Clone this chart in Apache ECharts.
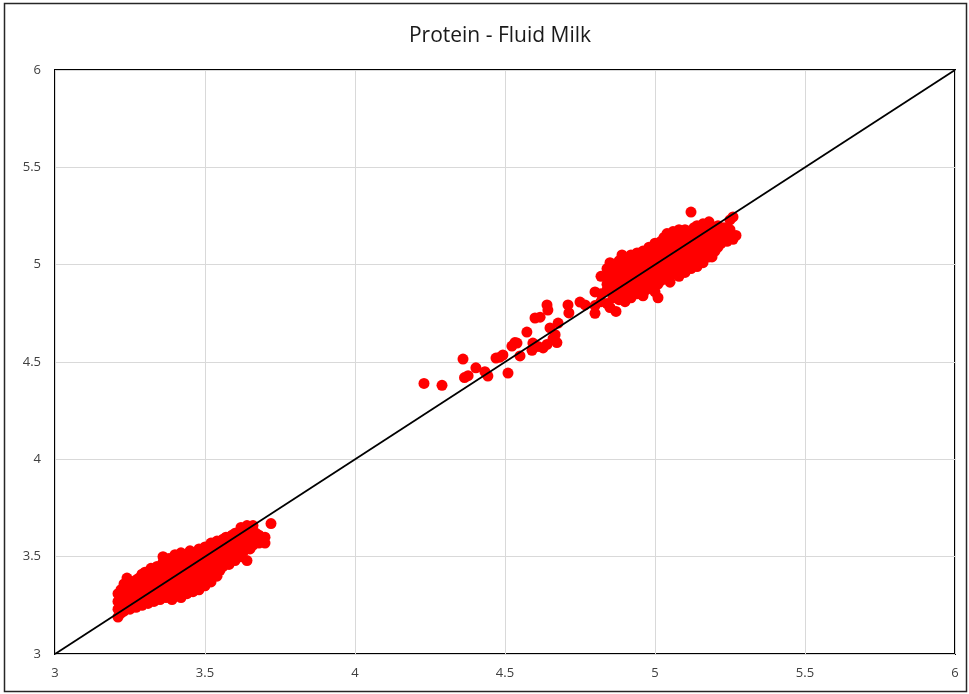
<!DOCTYPE html>
<html>
<head>
<meta charset="utf-8">
<script src="https://cdn.jsdelivr.net/npm/echarts@6/dist/echarts.min.js"></script>
<style>html,body{margin:0;padding:0;background:#fff}#c{width:969px;height:694px}</style>
</head>
<body>
<div id="c"></div>
<script>
const chartTitle = 'Protein - Fluid Milk';
const axisTicks = [3, 3.5, 4, 4.5, 5, 5.5, 6];
const identityLine = [[3, 3], [6, 6]];

// lower cluster: column x -> list of y values
const lowCols = [
  [3.21, [3.19, 3.23, 3.27, 3.31]],
  [3.22, [3.21, 3.25, 3.29, 3.33]],
  [3.23, [3.22, 3.28, 3.36]],
  [3.24, [3.24, 3.30, 3.39, 3.34]],
  [3.25, [3.23, 3.27, 3.32, 3.36]],
  [3.26, [3.25, 3.29, 3.35, 3.31]],
  [3.27, [3.24, 3.28, 3.33, 3.38]],
  [3.28, [3.26, 3.30, 3.35, 3.39]],
  [3.29, [3.25, 3.29, 3.34, 3.41]],
  [3.30, [3.27, 3.31, 3.36, 3.42, 3.39]],
  [3.31, [3.26, 3.30, 3.33, 3.38]],
  [3.32, [3.28, 3.32, 3.35, 3.40, 3.44]],
  [3.33, [3.27, 3.30, 3.34, 3.37, 3.42]],
  [3.34, [3.29, 3.33, 3.36, 3.39, 3.45]],
  [3.35, [3.28, 3.31, 3.35, 3.38, 3.43]],
  [3.36, [3.30, 3.33, 3.37, 3.41, 3.47, 3.50]],
  [3.37, [3.29, 3.32, 3.36, 3.40, 3.44]],
  [3.38, [3.31, 3.35, 3.38, 3.42, 3.46, 3.49]],
  [3.39, [3.28, 3.33, 3.37, 3.41, 3.45]],
  [3.40, [3.30, 3.34, 3.39, 3.43, 3.48, 3.51]],
  [3.41, [3.32, 3.36, 3.40, 3.44, 3.47]],
  [3.42, [3.29, 3.34, 3.38, 3.42, 3.46, 3.50, 3.52]],
  [3.43, [3.33, 3.37, 3.41, 3.45, 3.49]],
  [3.44, [3.31, 3.35, 3.39, 3.43, 3.47, 3.51]],
  [3.45, [3.34, 3.38, 3.42, 3.46, 3.50, 3.53]],
  [3.46, [3.32, 3.36, 3.40, 3.44, 3.48]],
  [3.47, [3.35, 3.39, 3.43, 3.47, 3.52]],
  [3.48, [3.33, 3.37, 3.41, 3.45, 3.49, 3.54]],
  [3.49, [3.36, 3.40, 3.44, 3.48, 3.51]],
  [3.50, [3.35, 3.38, 3.42, 3.46, 3.50, 3.55]],
  [3.51, [3.39, 3.43, 3.47, 3.53]],
  [3.52, [3.37, 3.41, 3.45, 3.49, 3.52, 3.57]],
  [3.53, [3.42, 3.46, 3.50, 3.55]],
  [3.54, [3.40, 3.44, 3.48, 3.53, 3.58]],
  [3.55, [3.43, 3.47, 3.51, 3.56]],
  [3.56, [3.45, 3.49, 3.54, 3.59]],
  [3.57, [3.47, 3.52, 3.57, 3.60]],
  [3.58, [3.46, 3.50, 3.55, 3.58]],
  [3.59, [3.49, 3.53, 3.57, 3.61]],
  [3.60, [3.48, 3.52, 3.56, 3.62]],
  [3.61, [3.51, 3.55, 3.59]],
  [3.62, [3.50, 3.54, 3.58, 3.65]],
  [3.63, [3.53, 3.57, 3.61]],
  [3.64, [3.48, 3.55, 3.60, 3.66]],
  [3.65, [3.54, 3.58, 3.62]],
  [3.66, [3.56, 3.60, 3.66]],
  [3.67, [3.58, 3.62]],
  [3.68, [3.57, 3.61]],
  [3.70, [3.57, 3.60]],
  [3.72, [3.67]]
];

// scattered middle points
const midPoints = [
  [4.23, 4.39], [4.29, 4.38], [4.36, 4.515], [4.365, 4.42], [4.377, 4.43],
  [4.403, 4.47], [4.433, 4.45], [4.443, 4.428], [4.47, 4.52], [4.483, 4.525],
  [4.493, 4.536], [4.51, 4.443], [4.523, 4.582], [4.54, 4.597], [4.55, 4.531],
  [4.533, 4.60], [4.573, 4.654], [4.59, 4.56], [4.593, 4.597], [4.6, 4.726],
  [4.617, 4.73], [4.61, 4.58], [4.627, 4.572], [4.64, 4.59], [4.64, 4.793],
  [4.643, 4.767], [4.65, 4.675], [4.66, 4.62], [4.667, 4.64], [4.677, 4.70],
  [4.673, 4.60], [4.71, 4.793], [4.713, 4.752], [4.75, 4.808], [4.767, 4.793]
];

// upper cluster: column x -> list of y values
const highCols = [
  [4.80, [4.75, 4.79, 4.86]],
  [4.82, [4.81, 4.85, 4.94]],
  [4.84, [4.80, 4.87, 4.90, 4.94, 4.98]],
  [4.85, [4.78, 5.01]],
  [4.86, [4.83, 4.88, 4.92, 4.96]],
  [4.87, [4.76, 4.85, 4.99]],
  [4.88, [4.82, 4.90, 4.94, 4.98, 5.02]],
  [4.89, [4.87, 4.93, 5.05]],
  [4.90, [4.81, 4.85, 4.89, 4.96, 5.00, 5.03]],
  [4.91, [4.91, 4.95, 4.99]],
  [4.92, [4.83, 4.87, 4.93, 4.97, 5.01, 5.05]],
  [4.93, [4.89, 4.95, 5.03]],
  [4.94, [4.85, 4.91, 4.97, 5.00, 5.06]],
  [4.95, [4.88, 4.93, 4.99, 5.04]],
  [4.96, [4.84, 4.90, 4.95, 5.01, 5.07]],
  [4.97, [4.87, 4.92, 4.97, 5.03]],
  [4.98, [4.89, 4.94, 4.99, 5.05, 5.09]],
  [4.99, [4.91, 4.96, 5.01, 5.07]],
  [5.00, [4.86, 4.93, 4.98, 5.03, 5.08, 5.11]],
  [5.01, [4.83, 4.90, 4.95, 5.00, 5.05, 5.10]],
  [5.02, [4.92, 4.97, 5.02, 5.07, 5.12]],
  [5.03, [4.94, 4.99, 5.04, 5.09, 5.14]],
  [5.04, [4.96, 5.01, 5.06, 5.11, 5.16]],
  [5.05, [4.91, 4.98, 5.03, 5.08, 5.13]],
  [5.06, [4.95, 5.00, 5.05, 5.10, 5.15, 5.17]],
  [5.07, [4.97, 5.02, 5.07, 5.12]],
  [5.08, [4.94, 4.99, 5.04, 5.09, 5.14, 5.18]],
  [5.09, [5.01, 5.06, 5.11, 5.16]],
  [5.10, [4.96, 5.03, 5.08, 5.13, 5.18]],
  [5.11, [5.00, 5.05, 5.10, 5.15]],
  [5.12, [4.98, 5.02, 5.07, 5.12, 5.17, 5.27]],
  [5.13, [5.04, 5.09, 5.14, 5.19]],
  [5.14, [4.99, 5.06, 5.11, 5.16, 5.20]],
  [5.15, [5.03, 5.08, 5.13, 5.18]],
  [5.16, [5.01, 5.05, 5.10, 5.15, 5.21]],
  [5.17, [5.07, 5.12, 5.17]],
  [5.18, [5.04, 5.09, 5.14, 5.19, 5.22]],
  [5.19, [5.04, 5.11, 5.16]],
  [5.20, [5.07, 5.13, 5.18]],
  [5.21, [5.09, 5.15, 5.20]],
  [5.22, [5.11, 5.17]],
  [5.23, [5.13, 5.19]],
  [5.24, [5.12, 5.16]],
  [5.25, [5.14, 5.18, 5.23]],
  [5.26, [5.13, 5.245]],
  [5.27, [5.15]]
];

function expand(cols) {
  const out = [];
  cols.forEach(function (c) { c[1].forEach(function (y) { out.push([c[0], y]); }); });
  return out;
}
const points = expand(lowCols).concat(midPoints, expand(highCols));

const chart = echarts.init(document.getElementById('c'), null, { renderer: 'canvas' });
const labelStyle = { color: '#404040', fontSize: 13, fontFamily: 'Open Sans' };
chart.setOption({
  backgroundColor: '#fff',
  animation: false,
  title: {
    text: chartTitle,
    left: 495, top: 21, textAlign: 'center',
    textStyle: { fontFamily: 'Open Sans', fontSize: 21, fontWeight: 'normal', color: '#1a1a1a' }
  },
  grid: { left: 55, right: 14, top: 70, bottom: 40, show: true, borderColor: '#000', borderWidth: 2, containLabel: false },
  xAxis: {
    type: 'value', min: axisTicks[0], max: axisTicks[axisTicks.length - 1], interval: 0.5,
    axisLine: { show: false }, axisTick: { show: false },
    splitLine: { show: true, lineStyle: { color: '#d9d9d9', width: 1 } },
    axisLabel: Object.assign({ margin: 13 }, labelStyle)
  },
  yAxis: {
    type: 'value', min: axisTicks[0], max: axisTicks[axisTicks.length - 1], interval: 0.5,
    axisLine: { show: false }, axisTick: { show: false },
    splitLine: { show: true, lineStyle: { color: '#d9d9d9', width: 1 } },
    axisLabel: Object.assign({ margin: 14 }, labelStyle)
  },
  graphic: [{
    type: 'rect', shape: { x: 4.5, y: 3.5, width: 962, height: 688 },
    style: { fill: 'none', stroke: '#262626', lineWidth: 1.5 }, silent: true
  }],
  series: [
    {
      type: 'scatter', data: points, symbol: 'circle', symbolSize: 11,
      itemStyle: { color: '#ff0000', opacity: 1 }, z: 2
    },
    {
      type: 'line', data: identityLine, symbol: 'none',
      lineStyle: { color: '#000', width: 1.8 }, z: 3
    }
  ]
});
</script>
</body>
</html>
